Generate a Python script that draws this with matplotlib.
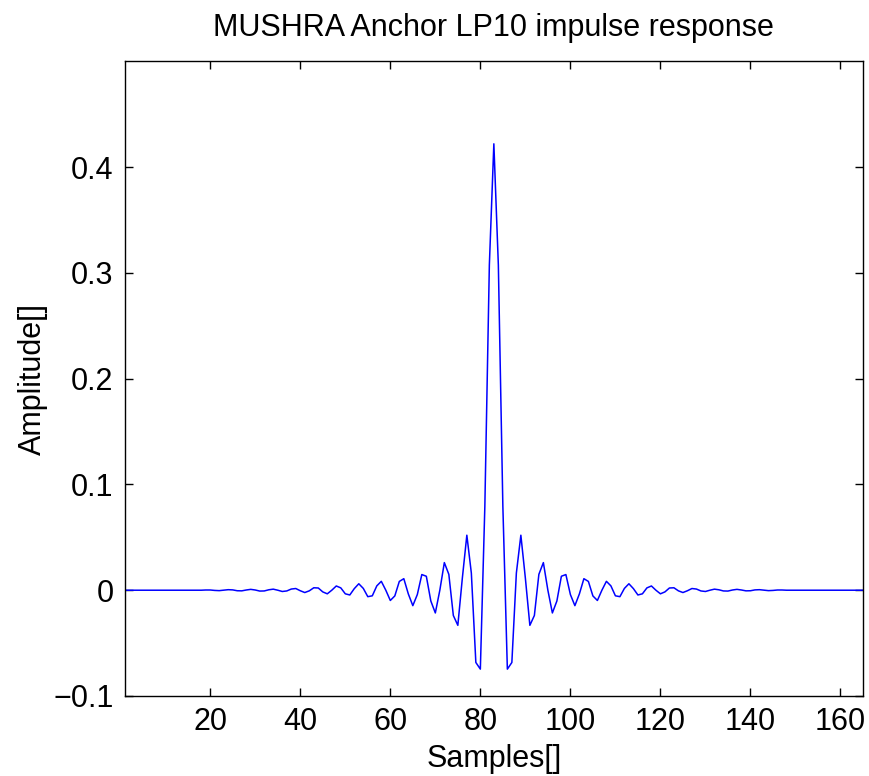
import matplotlib
matplotlib.use("Agg")
import matplotlib.pyplot as plt

plt.rcParams['font.family'] = ['Liberation Sans', 'DejaVu Sans']

# sample index 1..165, impulse response values
samples = list(range(1, 166))
amplitude = [
    # 1..17
    0, 0, 0, 0, 0, 0, 0, 0, 0, 0, 0, 0, 0, 0, 0, 0, 0,
    # 18..33
    0, 0.0002, 0.0002, -0.0002, -0.0004, 0, 0.0005, 0.0003, -0.0005, -0.0006,
    0.0002, 0.0008, 0.0002, -0.0008, -0.0007, 0.0004,
    # 34..82
    0.0010, 0.0, -0.0012, -0.0007, 0.0011, 0.0016, -0.0005, -0.0022, -0.0006, 0.0023,
    0.0021, -0.0016, -0.0034, 0.0, 0.0040, 0.0022, -0.0034, -0.0045, 0.0015, 0.0061,
    0.0017, -0.0061, -0.0053, 0.0041, 0.0084, 0.0, -0.0097, -0.0054, 0.0083, 0.0109,
    -0.0035, -0.0146, -0.0041, 0.0148, 0.0132, -0.0102, -0.0215, 0.0, 0.0261, 0.0150,
    -0.0239, -0.0332, 0.0114, 0.0520, 0.0162, -0.0683, -0.0746, 0.0794, 0.3073,
    # 83 (peak)
    0.422,
    # 84..132
    0.3073, 0.0794, -0.0746, -0.0683, 0.0162, 0.0520, 0.0114, -0.0332, -0.0239,
    0.0150, 0.0261, 0.0, -0.0215, -0.0102, 0.0132, 0.0148, -0.0041, -0.0146, -0.0035,
    0.0109, 0.0083, -0.0054, -0.0097, 0.0, 0.0084, 0.0041, -0.0053, -0.0061, 0.0017,
    0.0061, 0.0015, -0.0045, -0.0034, 0.0022, 0.0040, 0.0, -0.0034, -0.0016, 0.0021,
    0.0023, -0.0006, -0.0022, -0.0005, 0.0016, 0.0011, -0.0007, -0.0012, 0.0, 0.0010,
    # 133..148
    0.0004, -0.0007, -0.0008, 0.0002, 0.0008, 0.0002, -0.0006, -0.0005, 0.0003, 0.0005,
    0, -0.0004, -0.0002, 0.0002, 0.0002, 0,
    # 149..165
    0, 0, 0, 0, 0, 0, 0, 0, 0, 0, 0, 0, 0, 0, 0, 0, 0,
]

xticks = [20, 40, 60, 80, 100, 120, 140, 160]
yticks = [-0.1, 0, 0.1, 0.2, 0.3, 0.4]
ytick_labels = ['\u22120.1', '0', '0.1', '0.2', '0.3', '0.4']

fig = plt.figure(figsize=(8.69, 7.76), dpi=100)
ax = fig.add_axes([0.1435, 0.1031, 0.8496, 0.8179])

ax.plot(samples, amplitude, color='#0000ff', linewidth=1.1)

ax.set_xlim(1, 165)
ax.set_ylim(-0.1, 0.5)
ax.set_xticks(xticks)
ax.set_yticks(yticks)
ax.set_yticklabels(ytick_labels)
ax.tick_params(direction='in', length=6, width=1, top=True, right=True,
               labelsize=22, pad=8)
for s in ax.spines.values():
    s.set_linewidth(1)

ax.set_title('MUSHRA Anchor LP10 impulse response', fontsize=22, pad=18)
ax.set_xlabel('Samples[]', fontsize=22, labelpad=5)
ax.set_ylabel('Amplitude[]', fontsize=22, labelpad=4)

fig.savefig('out.png', dpi=100)
